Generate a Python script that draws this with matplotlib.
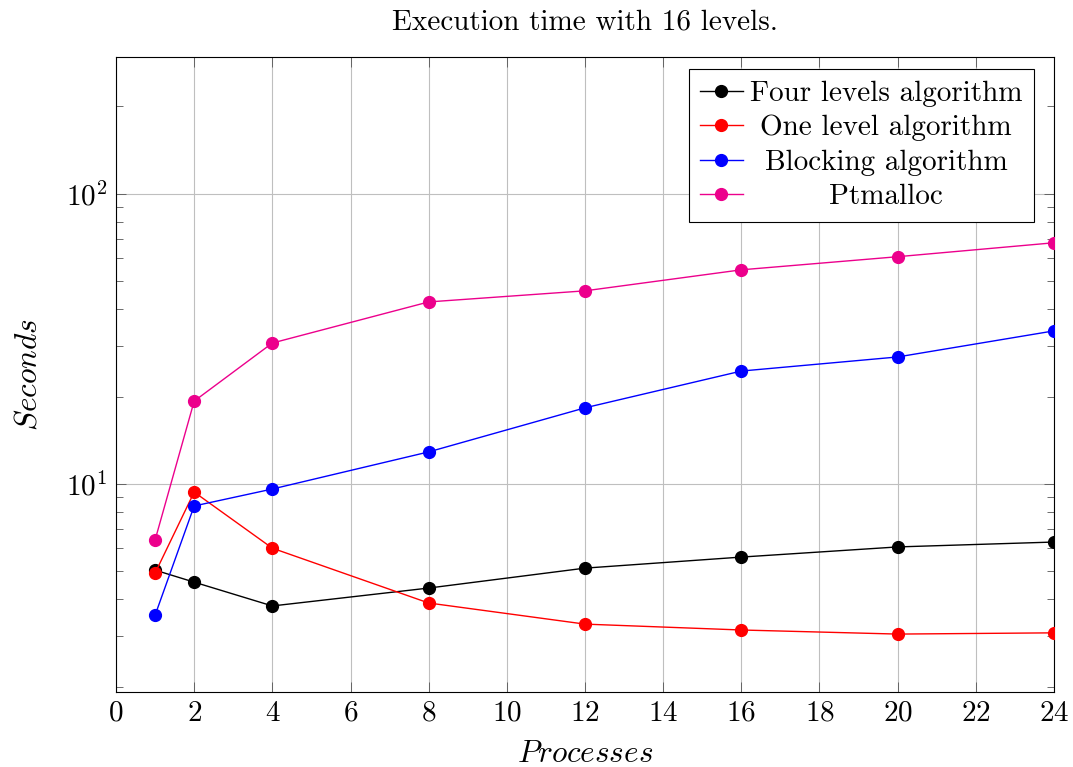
import matplotlib
matplotlib.use("Agg")
import matplotlib.pyplot as plt
from matplotlib.offsetbox import VPacker
from matplotlib.ticker import LogLocator, NullFormatter, MultipleLocator

plt.rcParams['font.family'] = ['cmr10', 'DejaVu Serif']
plt.rcParams['mathtext.fontset'] = 'cm'
plt.rcParams['axes.formatter.use_mathtext'] = True

processes = [1, 2, 4, 8, 12, 16, 20, 24]
four_levels = [5.05, 4.59, 3.80, 4.38, 5.13, 5.60, 6.07, 6.31]
one_level = [4.93, 9.38, 6.01, 3.89, 3.29, 3.14, 3.04, 3.07]
blocking = [3.53, 8.40, 9.61, 12.9, 18.3, 24.5, 27.4, 33.7]
ptmalloc = [6.41, 19.3, 30.6, 42.4, 46.3, 54.7, 60.7, 67.8]

labels = ["Four levels algorithm", "One level algorithm", "Blocking algorithm", "Ptmalloc"]
colors = ["black", "#FF0000", "#0000FF", "#EC008C"]
series = [four_levels, one_level, blocking, ptmalloc]

FS = 21
W, H = 1073, 767
fig = plt.figure(figsize=(W / 100, H / 100), dpi=100)
ax = fig.add_axes([116 / W, 1 - 692 / H, (1054 - 116) / W, (692 - 57) / H])

for vals, col, lab in zip(series, colors, labels):
    ax.plot(processes, vals, color=col, lw=1.0, marker='o', markersize=8.5,
            label=lab, zorder=3)

ax.set_yscale('log')
ax.set_xlim(0, 24)
ax.set_ylim(1.92, 296)
ax.xaxis.set_major_locator(MultipleLocator(2))
ax.yaxis.set_major_locator(LogLocator(base=10, numticks=10))
ax.yaxis.set_minor_locator(LogLocator(base=10, subs=range(2, 10), numticks=10))
ax.yaxis.set_minor_formatter(NullFormatter())

ax.grid(True, which='major', color='#BFBFBF', lw=0.8)
ax.set_axisbelow(True)
ax.tick_params(which='both', direction='in', top=True, right=True,
               color='#555555', width=0.6, labelsize=FS)
ax.tick_params(which='major', length=7.5, pad=6)
ax.tick_params(which='minor', length=5)
for s in ax.spines.values():
    s.set_linewidth(0.8)

ax.set_title(r'Execution time with 16 levels.', fontsize=FS, pad=20)
ax.set_xlabel(r'$Processes$', fontsize=22.5, labelpad=9.5)
ax.set_ylabel(r'$Seconds$', fontsize=22.5, labelpad=17)

leg = ax.legend(loc='upper right', bbox_to_anchor=(0.9787, 0.9811), borderaxespad=0,
                fontsize=FS, fancybox=False, framealpha=1, edgecolor='black',
                handlelength=1.45, handletextpad=0.25, labelspacing=0.27,
                borderpad=0.4)
leg.get_frame().set_linewidth(0.8)

# center legend texts like pgfplots
fig.canvas.draw()
widths = [t.get_window_extent().width for t in leg.get_texts()]
maxw = max(widths)
for col in leg._legend_handle_box.get_children():
    for row in col.get_children():
        ch = row.get_children()
        tb = ch[1]
        wrap = VPacker(children=[tb], align='center', width=maxw, pad=0, sep=0)
        wrap.set_figure(fig)
        row._children[1] = wrap

fig.savefig('out.png', dpi=100)
